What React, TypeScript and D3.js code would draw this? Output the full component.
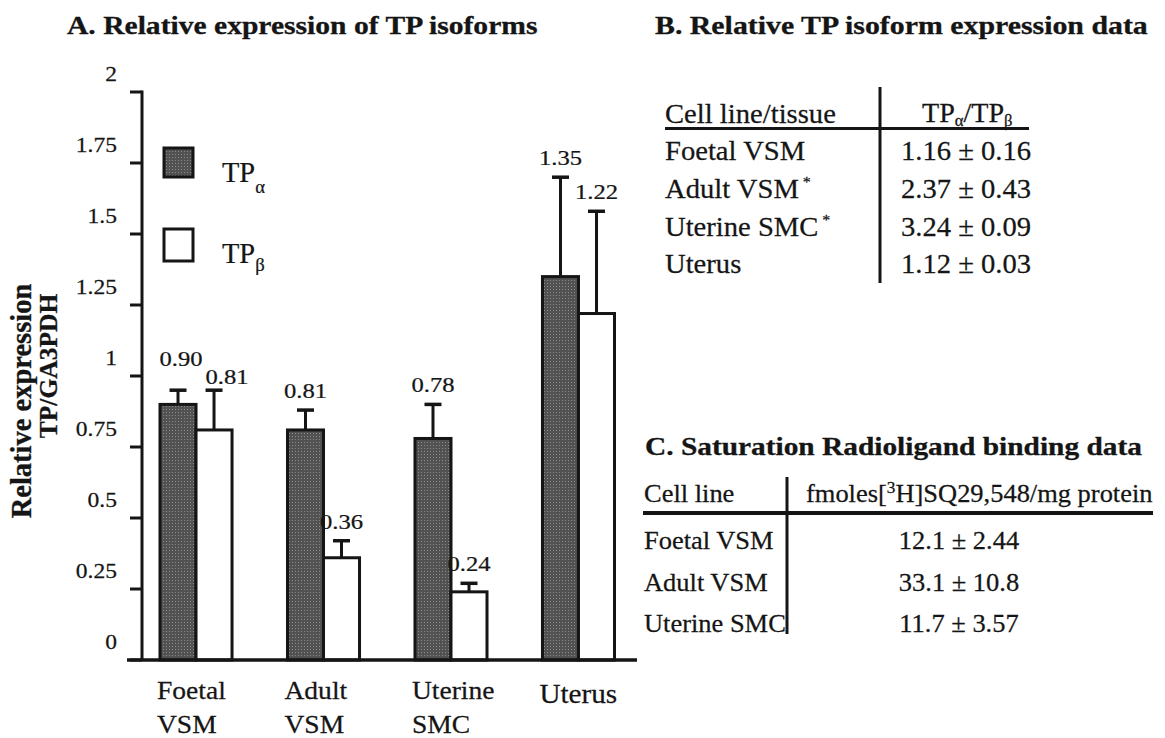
import React from "react";
import * as d3 from "d3";

// ---------- data ----------
const categories = ["Foetal VSM", "Adult VSM", "Uterine SMC", "Uterus"];
const categoryLines = [["Foetal", "VSM"], ["Adult", "VSM"], ["Uterine", "SMC"], ["Uterus"]];
const seriesKeys = ["alpha", "beta"];
const alphaValues = [0.9, 0.81, 0.78, 1.35];
const betaValues = [0.81, 0.36, 0.24, 1.22];
const alphaErrors = [0.05, 0.07, 0.12, 0.35];
const betaErrors = [0.14, 0.06, 0.03, 0.36];
const alphaLabels = ["0.90", "0.81", "0.78", "1.35"];
const betaLabels = ["0.81", "0.36", "0.24", "1.22"];
const yTickValues = [0, 0.25, 0.5, 0.75, 1, 1.25, 1.5, 1.75, 2];
const yTickLabels = ["0", "0.25", "0.5", "0.75", "1", "1.25", "1.5", "1.75", "2"];

const tableBRows = ["Foetal VSM", "Adult VSM", "Uterine SMC", "Uterus"];
const tableBStars = [false, true, true, false];
const tableBValues = ["1.16 ± 0.16", "2.37 ± 0.43", "3.24 ± 0.09", "1.12 ± 0.03"];

const tableCRows = ["Foetal VSM", "Adult VSM", "Uterine SMC"];
const tableCValues = ["12.1 ± 2.44", "33.1 ± 10.8", "11.7 ± 3.57"];

// ---------- styles ----------
const FONT = "'Liberation Serif', 'Times New Roman', Times, serif";
const INK = "#151515";

type TProps = {
  x: number; y: number; size: number; sx?: number; anchor?: string;
  weight?: string | number; children?: React.ReactNode; rotate?: number;
};
const T = ({ x, y, size, sx = 1.1, anchor = "start", weight = "normal", children, rotate = 0 }: TProps) => (
  <g transform={`translate(${x},${y}) rotate(${rotate}) scale(${sx},1)`}>
    <text textAnchor={anchor as any} fontSize={size} fontWeight={weight as any} fontFamily={FONT} fill={INK}
      stroke={INK} strokeWidth={weight === "bold" ? 0.3 : 0.25}>
      {children}
    </text>
  </g>
);

export default function App() {
  const W = 1165, H = 738;
  const y = d3.scaleLinear().domain([0, 2]).range([660, 92]);
  const x0 = d3.scaleBand<string>().domain(categories).range([160, 614.5]).paddingInner(0.435).paddingOuter(0);
  const x1 = d3.scaleBand<string>().domain(seriesKeys).range([0, x0.bandwidth()]);
  const axisX = 142;

  const series = [
    { key: "alpha", values: alphaValues, errs: alphaErrors, labels: alphaLabels },
    { key: "beta", values: betaValues, errs: betaErrors, labels: betaLabels },
  ];

  return (
    <svg width={W} height={H} style={{ position: "absolute", left: 0, top: 0, background: "#fff" }}>
      <defs>
        <pattern id="stip" width="3" height="3" patternUnits="userSpaceOnUse">
          <rect width="3" height="3" fill="#525252" />
          <rect x="1" y="1" width="1" height="1" fill="#8a8a8a" />
        </pattern>
      </defs>
      <rect width={W} height={H} fill="#fff" />

      {/* Panel A title */}
      <T x={67} y={34} size={25.5} sx={1.16} weight="bold">A. Relative expression of TP isoforms</T>

      {/* Y axis title */}
      <T x={31} y={401} size={28.5} sx={1} weight="bold" anchor="middle" rotate={-90}>Relative expression</T>
      <T x={57} y={366} size={25.5} sx={1} weight="bold" anchor="middle" rotate={-90}>TP/GA3PDH</T>

      {/* Y axis */}
      <line x1={axisX} x2={axisX} y1={y(2) - 1.5} y2={y(0)} stroke={INK} strokeWidth={3} />
      {yTickValues.map((v, i) => (
        <g key={v}>
          <line x1={axisX - 12} x2={axisX} y1={y(v)} y2={y(v)} stroke={INK} strokeWidth={3} />
          <T x={117} y={y(v) - 11} size={22} sx={1.07} anchor="end">{yTickLabels[i]}</T>
        </g>
      ))}

      {/* Bars */}
      {categories.map((c, ci) => {
        const gx = x0(c)!;
        const capA = y(alphaValues[ci] + alphaErrors[ci]);
        const capB = y(betaValues[ci] + betaErrors[ci]);
        const crowded = Math.abs(capA - capB) < 20;
        return (
          <g key={c}>
            {series.map((s) => {
              const v = s.values[ci];
              const e = s.errs[ci];
              const bx = gx + x1(s.key)!;
              const bw = x1.bandwidth();
              const cx = bx + bw / 2;
              const cap = y(v + e);
              let lx = cx, ly = cap - 12;
              if (crowded) {
                if (s.key === "alpha") { lx = cx + 3; ly = cap - 24; }
                else { lx = cx + 13; ly = cap - 6; }
              }
              return (
                <g key={s.key}>
                  <line x1={cx} x2={cx} y1={y(v)} y2={cap} stroke={INK} strokeWidth={3} />
                  <line x1={cx - 8.5} x2={cx + 8.5} y1={cap} y2={cap} stroke={INK} strokeWidth={3.5} />
                  <rect x={bx} y={y(v)} width={bw} height={y(0) - y(v)}
                    fill={s.key === "alpha" ? "url(#stip)" : "#fff"} stroke={INK} strokeWidth={3} />
                  <T x={lx} y={ly} size={22} sx={1.12} anchor="middle">{s.labels[ci]}</T>
                </g>
              );
            })}
            {categoryLines[ci].map((ln, li) => (
              <T key={li} x={gx - 3} y={categoryLines[ci].length > 1 ? 699 + li * 34 : 703}
                size={categoryLines[ci].length > 1 ? 25.5 : 27} sx={1.08}>{ln}</T>
            ))}
          </g>
        );
      })}

      {/* X baseline */}
      <line x1={127} x2={637} y1={y(0)} y2={y(0)} stroke={INK} strokeWidth={3.5} />

      {/* Legend */}
      <rect x={164} y={148} width={29} height={29} fill="url(#stip)" stroke={INK} strokeWidth={3} />
      <rect x={164} y={229} width={29} height={32} fill="#fff" stroke={INK} strokeWidth={3} />
      <T x={222} y={182} size={29} sx={0.98}>TP<tspan fontSize={19} dy={11}>α</tspan></T>
      <T x={222} y={263} size={29} sx={0.98}>TP<tspan fontSize={19} dy={8}>β</tspan></T>

      {/* Panel B */}
      <T x={655} y={34} size={25.5} sx={1.17} weight="bold">B. Relative TP isoform expression data</T>
      <line x1={880} x2={880} y1={87} y2={283} stroke={INK} strokeWidth={3} />
      <line x1={665} x2={1029} y1={128.5} y2={128.5} stroke={INK} strokeWidth={3} />
      <T x={665} y={123} size={27} sx={1.06}>Cell line/tissue</T>
      <T x={922} y={122} size={27} sx={1.04}>TP<tspan fontSize={16} dy={4}>α</tspan><tspan dy={-4}>/TP</tspan><tspan fontSize={16} dy={4}>β</tspan></T>
      {tableBRows.map((r, i) => (
        <g key={r}>
          <T x={665} y={160 + i * 37.8} size={27} sx={1.06}>
            {r}{tableBStars[i] ? <tspan fontSize={15} dy={-11}>{" *"}</tspan> : null}
          </T>
          <T x={966} y={160 + i * 37.8} size={27} sx={1.06} anchor="middle">{tableBValues[i]}</T>
        </g>
      ))}

      {/* Panel C */}
      <T x={645} y={455} size={25} sx={1.175} weight="bold">C. Saturation Radioligand binding data</T>
      <line x1={787} x2={787} y1={477} y2={634} stroke={INK} strokeWidth={3} />
      <line x1={643} x2={1153} y1={513} y2={513} stroke={INK} strokeWidth={4} />
      <T x={644} y={502} size={24.5} sx={1.08}>Cell line</T>
      <T x={806} y={502} size={24.5} sx={1.08}>fmoles[<tspan fontSize={16} dy={-9}>3</tspan><tspan dy={9}>H]SQ29,548/mg protein</tspan></T>
      {tableCRows.map((r, i) => (
        <g key={r}>
          <T x={644} y={549 + i * 41.5} size={24.5} sx={1.08}>{r}</T>
          <T x={959} y={549 + i * 41.5} size={24.5} sx={1.08} anchor="middle">{tableCValues[i]}</T>
        </g>
      ))}
    </svg>
  );
}
